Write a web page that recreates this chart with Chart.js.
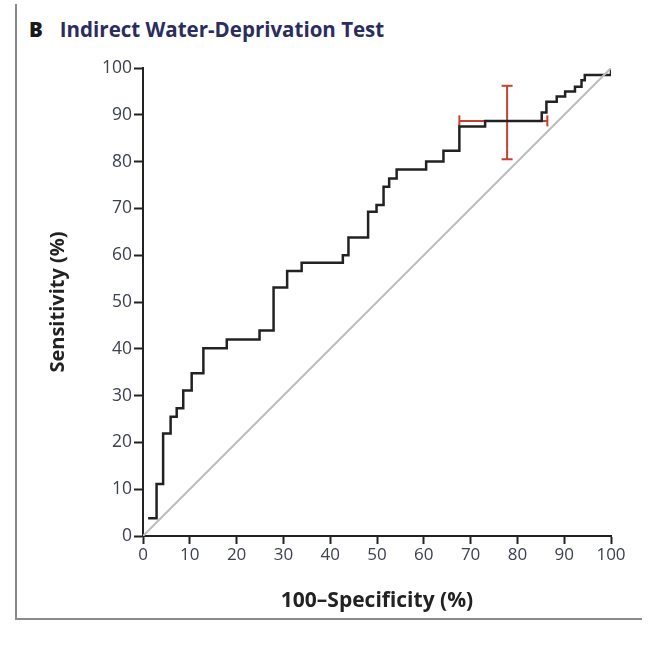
<!DOCTYPE html>
<html>
<head>
<meta charset="utf-8">
<script src="https://cdn.jsdelivr.net/npm/chart.js@4.4.1/dist/chart.umd.min.js"></script>
<style>
  body { margin: 0; background: #fff; }
  #wrap { position: relative; width: 656px; height: 648px; overflow: hidden; }
  #frame { position: absolute; left: 15px; top: 4px; width: 625px; height: 614px;
           border-left: 2px solid #8a8a8a; border-bottom: 2px solid #8a8a8a; }
  #title { position: absolute; left: 29px; top: 15px; font-family: "Open Sans", sans-serif;
           font-weight: bold; font-size: 20.5px; color: #2a2d5e; white-space: nowrap; letter-spacing: 0; }
  #title b { color: #1a1a1a; margin-right: 17px; }
  canvas { position: absolute; left: 0; top: 0; }
</style>
</head>
<body>
<div id="wrap">
  <div id="frame"></div>
  <div id="title"><b>B</b>Indirect Water-Deprivation Test</div>
  <canvas id="roc" width="656" height="648"></canvas>
</div>
<script>
// ROC operating points (top of each vertical step)
var fpr = [1.1, 2.9, 4.3, 5.9, 7.2, 8.6, 10.4, 12.9, 17.9, 24.9, 27.9, 30.8, 33.9, 42.7, 43.9, 48.1,
           49.9, 51.4, 52.6, 54.2, 60.5, 64.2, 67.6, 73.1, 85.2, 86.2, 88.4, 90.2, 92.3, 93.7, 94.4, 100];
var tpr = [3.8, 11.1, 21.9, 25.5, 27.3, 31.1, 34.8, 40.1, 42.0, 43.9, 53.1, 56.6, 58.4, 60.0, 63.8, 69.3,
           70.7, 74.6, 76.4, 78.3, 80.0, 82.3, 87.5, 88.7, 90.5, 92.8, 93.9, 95.0, 96.0, 97.4, 98.5, 100];

// reference diagonal
var chanceX = [0, 100];
var chanceY = [0, 100];

// test result with 95% CI (100-specificity, sensitivity)
var ciCenter = [77.8, 88.7];
var ciSpec = [67.6, 86.4];
var ciSens = [80.5, 96.2];

var ticks = [0, 10, 20, 30, 40, 50, 60, 70, 80, 90, 100];

var red = "#c8402e";
var ink = "#222";

var ctx = document.getElementById("roc");

var chart = new Chart(ctx, {
  type: "scatter",
  data: {
    datasets: [
      {
        label: "chance",
        data: chanceX.map(function (x, i) { return { x: x, y: chanceY[i] }; }),
        showLine: true,
        borderColor: "#bdbdbd",
        borderWidth: 2,
        pointRadius: 0
      },
      {
        label: "ROC",
        data: fpr.map(function (x, i) { return { x: x, y: tpr[i] }; }),
        showLine: true,
        stepped: "before",
        borderColor: ink,
        borderWidth: 2.5,
        pointRadius: 0
      },
      {
        label: "specificity CI",
        data: ciSpec.map(function (x) { return { x: x, y: ciCenter[1] }; }),
        showLine: true,
        borderColor: red,
        borderWidth: 2,
        pointStyle: "line",
        rotation: 90,
        pointRadius: 5.5,
        pointBorderColor: red,
        pointBorderWidth: 2
      },
      {
        label: "sensitivity CI",
        data: ciSens.map(function (y) { return { x: ciCenter[0], y: y }; }),
        showLine: true,
        borderColor: red,
        borderWidth: 2,
        pointStyle: "line",
        rotation: 0,
        pointRadius: 5.5,
        pointBorderColor: red,
        pointBorderWidth: 2
      }
    ]
  },
  options: {
    responsive: false,
    animation: false,
    events: [],
    layout: { padding: { left: 40, right: 45, top: 68, bottom: 30 } },
    plugins: { legend: { display: false }, tooltip: { enabled: false } },
    scales: {
      x: {
        type: "linear",
        min: 0,
        max: 100,
        afterFit: function (s) { s.height = 82; },
        afterBuildTicks: function (s) { s.ticks = ticks.map(function (v) { return { value: v }; }); },
        border: { color: ink, width: 2 },
        grid: { drawOnChartArea: false, color: ink, tickLength: 8, tickWidth: 2 },
        ticks: { color: "#3d4150", padding: 1, font: { family: "Open Sans", size: 17 } },
        title: {
          display: true,
          text: "100\u2013Specificity (%)",
          color: ink,
          padding: { top: 0, bottom: 4 },
          font: { family: "Open Sans", size: 21, weight: "bold" }
        }
      },
      y: {
        type: "linear",
        min: 0,
        max: 100,
        afterFit: function (s) { s.width = 103; },
        afterBuildTicks: function (s) { s.ticks = ticks.map(function (v) { return { value: v }; }); },
        border: { color: ink, width: 2 },
        grid: { drawOnChartArea: false, color: ink, tickLength: 9, tickWidth: 2 },
        ticks: { color: "#3d4150", padding: 2, font: { family: "Open Sans", size: 17.5 } },
        title: {
          display: true,
          text: "Sensitivity (%)",
          color: ink,
          padding: { top: 6, bottom: 0 },
          font: { family: "Open Sans", size: 20, weight: "bold" }
        }
      }
    }
  }
});
</script>
</body>
</html>
